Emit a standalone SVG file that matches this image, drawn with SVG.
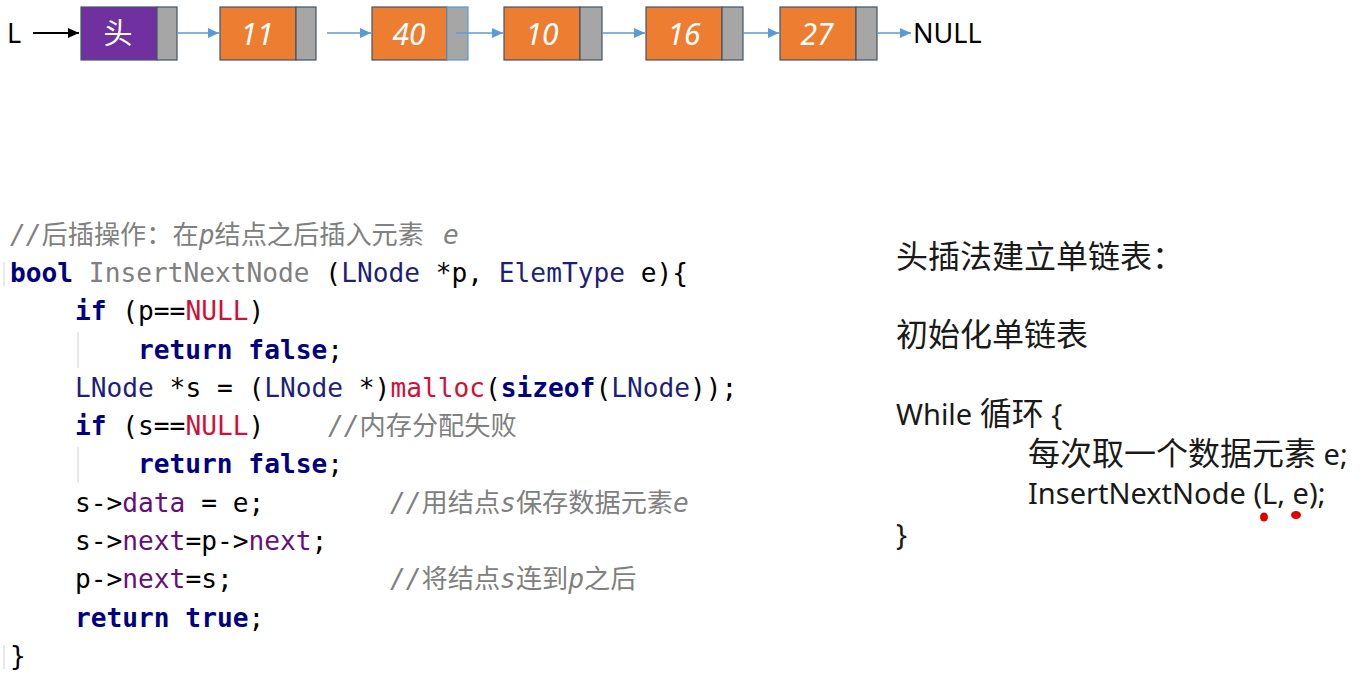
<svg xmlns="http://www.w3.org/2000/svg" width="1363" height="675" viewBox="0 0 1363 675">
<style>
.data{fill:#ED7D31;stroke:#44546A;stroke-width:1.2}
.head{fill:#7030A0;stroke:#44546A;stroke-width:1.2}
.ptr{fill:#A6A6A6;stroke:#44546A;stroke-width:1.2}
.num{font-family:"Noto Sans","Liberation Sans",sans-serif;font-style:italic;font-size:30px;fill:#fff;text-anchor:middle}
.hz{font-family:"Noto Sans CJK SC",sans-serif;font-size:29px;fill:#fff;text-anchor:middle}
.lbl{font-family:"Noto Sans","Liberation Sans",sans-serif;font-size:27px;fill:#000}
.conn{stroke:#5B9BD5;stroke-width:1.6;fill:none}
.code{font-family:"DejaVu Sans Mono","Liberation Mono","Noto Sans CJK SC",monospace;font-size:26.2px;fill:#000}
.kw{fill:#000080;font-weight:bold}
.ty{fill:#1F1F7A}
.fn{fill:#808080}
.red{fill:#D0103A}
.mem{fill:#660E7A}
.cm{fill:#808080}
.it{font-style:italic}
.cj{font-family:"Noto Sans CJK SC",sans-serif}
.guide{stroke:#E2E2E2;stroke-width:1.5}
.note{font-family:"Noto Sans","Noto Sans CJK SC",sans-serif;font-size:29px;fill:#1A1A1A}
.zh{font-family:"Noto Sans CJK SC",sans-serif;font-size:32px}
</style>
<defs>
<marker id="ab" markerUnits="userSpaceOnUse" markerWidth="12" markerHeight="10" refX="11" refY="5" orient="auto">
<path d="M0,0 L11,5 L0,10 z" fill="#5B9BD5"/>
</marker>
<marker id="ak" markerUnits="userSpaceOnUse" markerWidth="12" markerHeight="10" refX="11" refY="5" orient="auto">
<path d="M0,0 L11,5 L0,10 z" fill="#000"/>
</marker>
</defs>
<rect width="1363" height="675" fill="#fff"/>

<text class="lbl" x="7" y="43">L</text>
<text class="lbl" x="913" y="43">NULL</text>

<g id="node-head">
<rect class="head" x="81" y="7" width="76" height="53"/>
<rect class="ptr" x="157" y="7" width="20" height="53"/>
<text class="hz" x="118" y="44">头</text>
</g>
<g id="node-11">
<rect class="data" x="220" y="7" width="76" height="53"/>
<rect class="ptr" x="296" y="7" width="20" height="53"/>
<text class="num" x="257" y="45">11</text>
</g>
<g id="node-40">
<rect class="data" x="372" y="7" width="75" height="53"/>
<rect class="ptr" x="447" y="7" width="21" height="53" style="stroke:#5B9BD5"/>
<text class="num" x="409" y="45">40</text>
</g>
<g id="node-10">
<rect class="data" x="504" y="7" width="76" height="53"/>
<rect class="ptr" x="580" y="7" width="22" height="53"/>
<text class="num" x="542" y="45">10</text>
</g>
<g id="node-16">
<rect class="data" x="646" y="7" width="76" height="53"/>
<rect class="ptr" x="722" y="7" width="21" height="53"/>
<text class="num" x="684" y="45">16</text>
</g>
<g id="node-27">
<rect class="data" x="780" y="7" width="76" height="53"/>
<rect class="ptr" x="856" y="7" width="21" height="53"/>
<text class="num" x="817" y="45">27</text>
</g>

<g id="connectors">
<line x1="33" y1="33" x2="79" y2="33" stroke="#000" stroke-width="2" marker-end="url(#ak)"/>
<line class="conn" x1="177" y1="33" x2="219" y2="33" marker-end="url(#ab)"/>
<line class="conn" x1="327" y1="33" x2="371" y2="33" marker-end="url(#ab)"/>
<line class="conn" x1="456" y1="33" x2="503" y2="33" marker-end="url(#ab)"/>
<line class="conn" x1="602" y1="33" x2="645" y2="33" marker-end="url(#ab)"/>
<line class="conn" x1="743" y1="33" x2="779" y2="33" marker-end="url(#ab)"/>
<line class="conn" x1="877" y1="33" x2="911" y2="33" marker-end="url(#ab)"/>
</g>

<g id="code">
<line class="guide" x1="4" y1="262" x2="4" y2="286"/>
<line class="guide" x1="4" y1="645" x2="4" y2="669"/>
<line class="guide" x1="78" y1="332" x2="78" y2="368"/>
<line class="guide" x1="78" y1="447" x2="78" y2="483"/>
<text class="code cm" x="10" y="244"><tspan class="it">//</tspan><tspan class="cj">后插操作：在</tspan><tspan class="it">p</tspan><tspan class="cj">结点之后插入元素</tspan><tspan class="it" x="443">e</tspan></text>
<text class="code" x="10" y="282"><tspan class="kw">bool</tspan> <tspan class="fn">InsertNextNode</tspan> (<tspan class="ty">LNode</tspan> *p, <tspan class="ty">ElemType</tspan> e){</text>
<text class="code" x="75" y="320"><tspan class="kw">if</tspan> (p==<tspan class="red">NULL</tspan>)</text>
<text class="code" x="138" y="359"><tspan class="kw">return false</tspan>;</text>
<text class="code" x="75" y="397"><tspan class="ty">LNode</tspan> *s = (<tspan class="ty">LNode</tspan> *)<tspan class="red">malloc</tspan>(<tspan class="kw">sizeof</tspan>(<tspan class="ty">LNode</tspan>));</text>
<text class="code" x="75" y="435"><tspan class="kw">if</tspan> (s==<tspan class="red">NULL</tspan>)</text>
<text class="code cm" x="328" y="435"><tspan class="it">//</tspan><tspan class="cj">内存分配失败</tspan></text>
<text class="code" x="138" y="473"><tspan class="kw">return false</tspan>;</text>
<text class="code" x="75" y="512">s-&gt;<tspan class="mem">data</tspan> = e;</text>
<text class="code cm" x="390" y="512"><tspan class="it">//</tspan><tspan class="cj">用结点</tspan><tspan class="it">s</tspan><tspan class="cj">保存数据元素</tspan><tspan class="it">e</tspan></text>
<text class="code" x="75" y="550">s-&gt;<tspan class="mem">next</tspan>=p-&gt;<tspan class="mem">next</tspan>;</text>
<text class="code" x="75" y="588">p-&gt;<tspan class="mem">next</tspan>=s;</text>
<text class="code cm" x="390" y="588"><tspan class="it">//</tspan><tspan class="cj">将结点</tspan><tspan class="it">s</tspan><tspan class="cj">连到</tspan><tspan class="it">p</tspan><tspan class="cj">之后</tspan></text>
<text class="code" x="75" y="627"><tspan class="kw">return true</tspan>;</text>
<text class="code" x="10" y="665">}</text>
</g>

<g id="notes">
<text class="note zh" x="896" y="268">头插法建立单链表：</text>
<text class="note zh" x="896" y="346">初始化单链表</text>
<text class="note" x="896" y="425">While <tspan class="zh">循环</tspan> {</text>
<text class="note" x="1028" y="465"><tspan class="zh">每次取一个数据元素</tspan> e;</text>
<text class="note" x="1028" y="504">InsertNextNode (L, e);</text>
<text class="note" x="896" y="545">}</text>
<ellipse cx="1264" cy="517" rx="4" ry="4.5" fill="#E00000"/>
<ellipse cx="1296" cy="515" rx="5" ry="4" fill="#E00000"/>
</g>
</svg>
